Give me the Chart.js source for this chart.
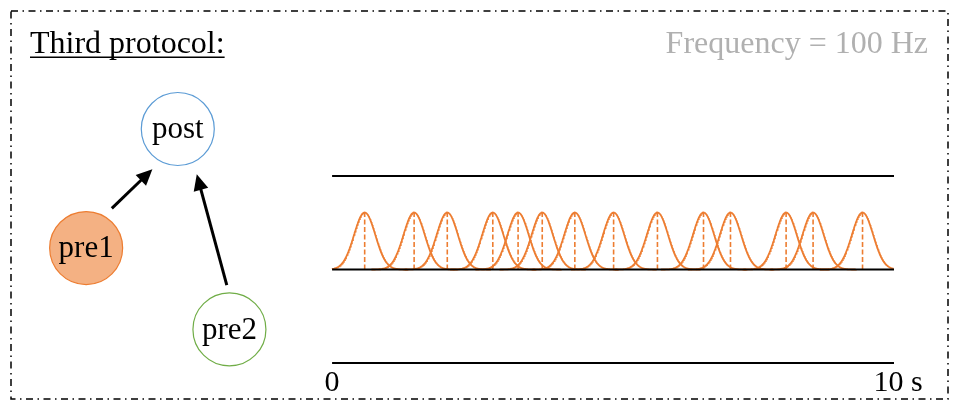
<!DOCTYPE html>
<html>
<head>
<meta charset="utf-8">
<script src="https://cdn.jsdelivr.net/npm/chart.js@4"></script>
<style>
  body { margin: 0; background: #fff; }
  #wrap { width: 953px; height: 401px; }
</style>
</head>
<body>
<div id="wrap"><canvas id="grafico" width="953" height="401"></canvas></div>
<script>
// Tiempos de los spikes de pre1 (s)
const spikeTimes = [0.58, 1.46, 2.05, 2.86, 3.31, 3.74, 4.32, 5.01, 5.79, 6.61, 7.09, 8.08, 8.56, 9.44];
const spikeHeight = 0.61;
const spikeWidth = 0.19;

// Lineas de las tres neuronas
const rowLevels = [0, 1, 2];
const tiempoMin = 0;
const tiempoMax = 10;
const tickLabels = ["0", "10 s"];

// Rango visible total (el diagrama queda a la izquierda del tiempo 0)
const xMin = -5.91;
const xMax = 11.05;
const yMin = -0.406;
const yMax = 3.883;

// Nodos del diagrama
const nodeNames = ["post", "pre1", "pre2"];
const nodeX = [-2.746, -4.377, -1.827];
const nodeY = [2.503, 1.230, 0.360];
const nodeFill = ["#ffffff", "#f4b183", "#ffffff"];
const nodeStroke = ["#5b9bd5", "#ed7d31", "#70ad47"];

// Flechas (desde -> hasta)
const arrowFromX = [-3.920, -1.874];
const arrowFromY = [1.655, 0.834];
const arrowToX = [-3.198, -2.408];
const arrowToY = [2.072, 2.018];

const titulo = "Third protocol:";
const frecuencia = "Frequency = 100 Hz";

const naranja = "#ed7d31";
const fuente = "'Liberation Serif', 'DejaVu Serif', serif";

// curva de cada spike
function curvaSpike(t) {
  const puntos = [];
  for (let k = -80; k <= 80; k++) {
    const x = t + k * spikeWidth / 20;
    if (x < tiempoMin || x > tiempoMax) continue;
    const z = (x - t) / spikeWidth;
    puntos.push({ x: x, y: 1 + spikeHeight * Math.exp(-0.5 * z * z) });
  }
  return puntos;
}

const datasets = [];

rowLevels.forEach((nivel) => {
  datasets.push({
    data: [{ x: tiempoMin, y: nivel }, { x: tiempoMax, y: nivel }],
    showLine: true,
    borderColor: "#000",
    borderWidth: 2,
    pointRadius: 0,
    order: 0
  });
});

spikeTimes.forEach((t) => {
  datasets.push({
    data: curvaSpike(t),
    showLine: true,
    borderColor: naranja,
    borderWidth: 1.8,
    pointRadius: 0,
    tension: 0,
    order: 2
  });
  datasets.push({
    data: [{ x: t, y: 1 }, { x: t, y: 1 + spikeHeight }],
    showLine: true,
    borderColor: naranja,
    borderWidth: 1.6,
    borderDash: [5, 2.5],
    pointRadius: 0,
    order: 1
  });
});

datasets.push({
  data: nodeNames.map((n, i) => ({ x: nodeX[i], y: nodeY[i] })),
  pointRadius: 36.5,
  pointBackgroundColor: nodeFill,
  pointBorderColor: nodeStroke,
  pointBorderWidth: 1.2,
  showLine: false,
  order: 0
});

// Texto, flechas y marco
const extras = {
  id: "extras",
  afterDatasetsDraw(chart) {
    const ctx = chart.ctx;
    const sx = chart.scales.x;
    const sy = chart.scales.y;
    ctx.save();

    // marco punto-raya
    ctx.strokeStyle = "#000";
    ctx.lineWidth = 1.5;
    ctx.setLineDash([7, 4.5, 1.5, 4.5]);
    ctx.strokeRect(11, 11, 937, 388);
    ctx.setLineDash([]);

    // flechas
    ctx.fillStyle = "#000";
    ctx.lineWidth = 3;
    arrowFromX.forEach((fx, i) => {
      const x1 = sx.getPixelForValue(fx);
      const y1 = sy.getPixelForValue(arrowFromY[i]);
      const x2 = sx.getPixelForValue(arrowToX[i]);
      const y2 = sy.getPixelForValue(arrowToY[i]);
      const ang = Math.atan2(y2 - y1, x2 - x1);
      const largo = 16, ancho = 7.5;
      const bx = x2 - largo * Math.cos(ang);
      const by = y2 - largo * Math.sin(ang);
      ctx.beginPath();
      ctx.moveTo(x1, y1);
      ctx.lineTo(bx + 2 * Math.cos(ang), by + 2 * Math.sin(ang));
      ctx.stroke();
      ctx.beginPath();
      ctx.moveTo(x2, y2);
      ctx.lineTo(bx + ancho * Math.sin(ang), by - ancho * Math.cos(ang));
      ctx.lineTo(bx - ancho * Math.sin(ang), by + ancho * Math.cos(ang));
      ctx.closePath();
      ctx.fill();
    });

    // nombres de nodos
    ctx.font = "31px " + fuente;
    ctx.textAlign = "center";
    ctx.textBaseline = "middle";
    ctx.fillStyle = "#000";
    nodeNames.forEach((n, i) => {
      ctx.fillText(n, sx.getPixelForValue(nodeX[i]), sy.getPixelForValue(nodeY[i]) + 1);
    });

    // etiquetas del eje
    ctx.font = "30px " + fuente;
    ctx.textBaseline = "alphabetic";
    ctx.fillText(tickLabels[0], sx.getPixelForValue(tiempoMin), 391);
    ctx.fillText(tickLabels[1], sx.getPixelForValue(tiempoMax) + 4, 391);

    // titulo subrayado
    ctx.font = "32px " + fuente;
    ctx.textAlign = "left";
    ctx.fillText(titulo, 30, 53);
    const w = ctx.measureText(titulo).width;
    ctx.fillRect(30, 56.5, w, 1.5);

    // frecuencia
    ctx.fillStyle = "#b0b0b0";
    ctx.textAlign = "right";
    ctx.fillText(frecuencia, 928, 53);

    ctx.restore();
  }
};

new Chart(document.getElementById("grafico").getContext("2d"), {
  type: "scatter",
  data: { datasets: datasets },
  options: {
    responsive: false,
    animation: false,
    events: [],
    layout: { padding: 0, autoPadding: false },
    scales: {
      x: { type: "linear", min: xMin, max: xMax, display: false },
      y: { type: "linear", min: yMin, max: yMax, display: false }
    },
    plugins: { legend: { display: false }, tooltip: { enabled: false } }
  },
  plugins: [extras]
});
</script>
</body>
</html>
